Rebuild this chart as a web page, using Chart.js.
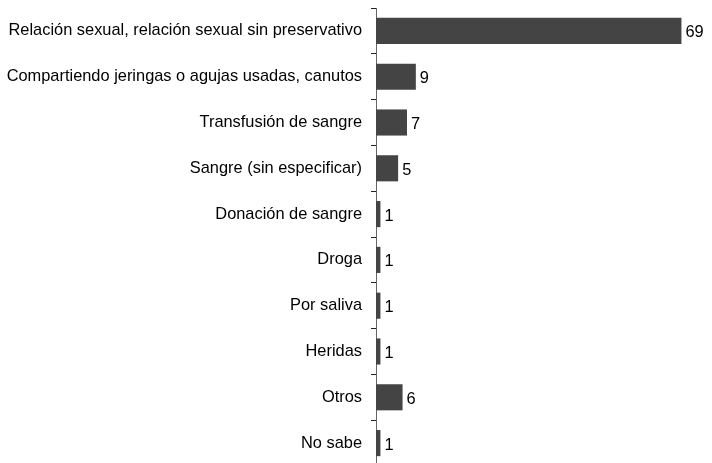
<!DOCTYPE html>
<html>
<head>
<meta charset="utf-8">
<script src="https://cdn.jsdelivr.net/npm/chart.js@4"></script>
<style>
  html, body { margin: 0; padding: 0; background: #fff; overflow: hidden; }
  #wrap { width: 712px; height: 466px; }
</style>
</head>
<body>
<div id="wrap"><canvas id="chart" width="712" height="466"></canvas></div>
<script>
const categories = [
  "Relación sexual, relación sexual sin preservativo",
  "Compartiendo jeringas o agujas usadas, canutos",
  "Transfusión de sangre",
  "Sangre (sin especificar)",
  "Donación de sangre",
  "Droga",
  "Por saliva",
  "Heridas",
  "Otros",
  "No sabe",
];
const values = [69, 9, 7, 5, 1, 1, 1, 1, 6, 1];

const FONT = "'Liberation Sans', Arial, sans-serif";

// numbers drawn just right of each bar
const valueLabels = {
  id: "valueLabels",
  afterDatasetsDraw(chart) {
    const ctx = chart.ctx;
    const meta = chart.getDatasetMeta(0);
    ctx.save();
    ctx.font = "16.4px " + FONT;
    ctx.fillStyle = "#000";
    ctx.textAlign = "left";
    ctx.textBaseline = "middle";
    meta.data.forEach((bar, i) => {
      ctx.fillText(String(values[i]), bar.x + 4, bar.y + 2);
    });
    ctx.restore();
  },
};

const ctx = document.getElementById("chart").getContext("2d");
new Chart(ctx, {
  type: "bar",
  data: {
    labels: categories,
    datasets: [
      {
        data: values,
        backgroundColor: "#444444",
        borderWidth: 0,
        categoryPercentage: 1,
        barPercentage: 0.57,
      },
    ],
  },
  options: {
    indexAxis: "y",
    responsive: false,
    animation: false,
    layout: { padding: { top: 8, right: 4, bottom: 0, left: 0 } },
    plugins: {
      legend: { display: false },
      tooltip: { enabled: false },
    },
    scales: {
      x: {
        display: false,
        min: 0,
        max: 75,
      },
      y: {
        afterFit(scale) {
          scale.width = 376;
          scale.paddingTop = 0;
          scale.paddingBottom = 0;
        },
        border: { display: true, color: "#666", width: 1 },
        grid: {
          drawOnChartArea: false,
          drawTicks: true,
          tickLength: 5,
          color: "#222",
          offset: true,
        },
        ticks: {
          color: "#000",
          padding: 9,
          font: { family: FONT, size: 16.4 },
        },
      },
    },
  },
  plugins: [valueLabels],
});
</script>
</body>
</html>
